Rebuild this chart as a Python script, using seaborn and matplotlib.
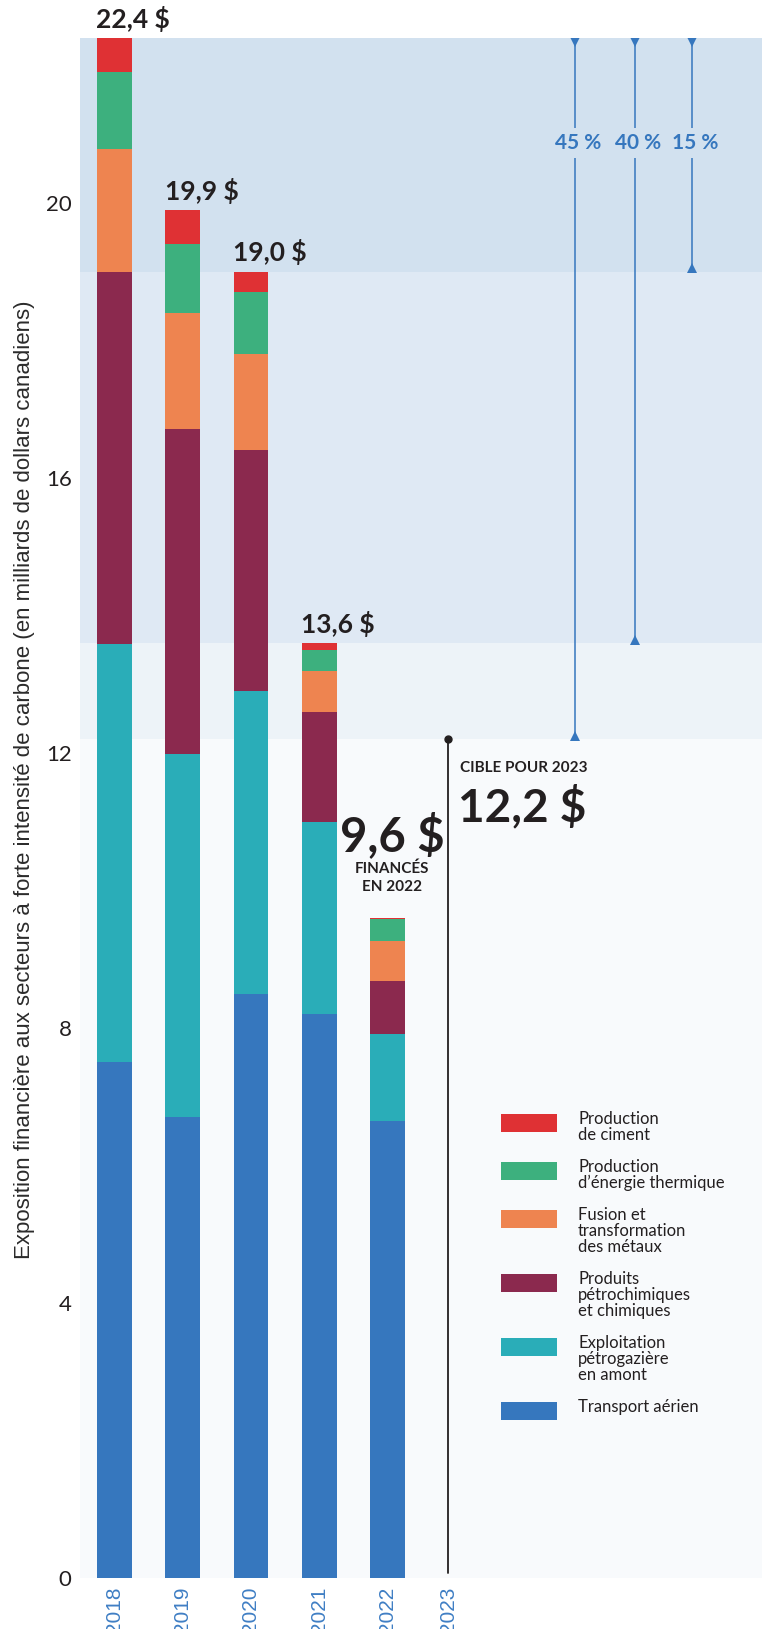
import matplotlib
matplotlib.use("Agg")
import matplotlib.pyplot as plt
from matplotlib.patches import Rectangle
import pandas as pd
import seaborn as sns

# --- data (milliards de dollars canadiens) ---
years = ["2018", "2019", "2020", "2021", "2022"]
target_year = "2023"
aerien = [7.5, 6.7, 8.5, 8.2, 6.65]
amont = [6.08, 5.29, 4.4, 2.8, 1.26]
petrochimie = [5.42, 4.72, 3.51, 1.6, 0.77]
metaux = [1.79, 1.69, 1.39, 0.6, 0.58]
thermique = [1.11, 1.0, 0.9, 0.3, 0.32]
ciment = [0.5, 0.5, 0.3, 0.1, 0.02]
total_labels = ["22,4 $", "19,9 $", "19,0 $", "13,6 $"]
total_2022 = 9.6
target_2023 = 12.2
reduction_steps = [19.0, 13.6, 12.2]          # paliers de réduction
reduction_labels = ["15 %", "40 %", "45 %"]
yticks = [0, 4, 8, 12, 16, 20]

sector_values = [aerien, amont, petrochimie, metaux, thermique, ciment]
sector_colors = ["#3677BE", "#2AADB8", "#8B294E", "#EE8450", "#3DB07E", "#DF3134"]
legend_labels = [
    "Transport aérien",
    "Exploitation\npétrogazière\nen amont",
    "Produits\npétrochimiques\net chimiques",
    "Fusion et\ntransformation\ndes métaux",
    "Production\nd’énergie thermique",
    "Production\nde ciment",
]

sns.set_theme(style="white")
plt.rcParams["font.family"] = ["Lato", "DejaVu Sans"]
DARK = "#231F20"
BLUE = "#3677BE"

W, H = 762, 1629
fig = plt.figure(figsize=(W / 100, H / 100), dpi=100, facecolor="white")
ax_l, ax_r, ax_t, ax_b = 80, 762, 38, 1578
ax = fig.add_axes([ax_l / W, 1 - ax_b / H, (ax_r - ax_l) / W, (ax_b - ax_t) / H])
ax.set_facecolor("white")

ymax = 22.4
ax.set_ylim(0, ymax)

# background bands for the successive targets
bands = [(0, target_2023, "#F8FAFC"), (target_2023, 13.6, "#EDF3F8"),
         (13.6, 19.0, "#DFE9F4"), (19.0, ymax, "#D2E1EF")]
for lo, hi, c in bands:
    ax.axhspan(lo, hi, color=c, lw=0, zorder=0)

# stacked bars: draw cumulative heights from the top layer down
cum = []
running = [0.0] * len(years)
for vals in sector_values:
    running = [r + v for r, v in zip(running, vals)]
    cum.append(list(running))
for heights, color in reversed(list(zip(cum, sector_colors))):
    df = pd.DataFrame({"annee": years, "montant": heights})
    sns.barplot(data=df, x="annee", y="montant", order=years, color=color,
                saturation=1, width=0.51, errorbar=None, linewidth=0,
                ax=ax, zorder=2)

x_target = 4.89
xmin, xmax = -0.505, 9.487
ax.set_xlim(xmin, xmax)

# totals above bars
for i, lab in enumerate(total_labels):
    ax.text(i - 0.265, cum[-1][i] + 0.15, lab, ha="left", va="baseline",
            fontsize=19, fontweight="bold", color=DARK, clip_on=False, zorder=5)

# 2022 annotation
ax.text(4.07, 10.57, "9,6 $", ha="center", va="baseline", fontsize=34,
        fontweight="bold", color=DARK, zorder=5)
ax.text(4.07, 10.25, "FINANCÉS", ha="center", va="baseline", fontsize=11,
        fontweight="bold", color=DARK, zorder=5)
ax.text(4.07, 9.99, "EN 2022", ha="center", va="baseline", fontsize=11,
        fontweight="bold", color=DARK, zorder=5)

# 2023 target marker
ax.plot([x_target, x_target], [0.08, target_2023], color=DARK, lw=1.3, zorder=4)
ax.plot([x_target], [target_2023], marker="o", ms=5, color=DARK, zorder=4)
ax.text(5.06, 11.72, "CIBLE POUR 2023", ha="left", va="baseline", fontsize=11,
        fontweight="bold", color=DARK, zorder=5)
ax.text(5.04, 11.0, "12,2 $", ha="left", va="baseline", fontsize=33,
        fontweight="bold", color=DARK, zorder=5)

# reduction arrows
px = 1540 / ymax
arrow_x = {"15 %": 8.462, "40 %": 7.626, "45 %": 6.747}
label_y = 20.87
for step, lab in zip(reduction_steps, reduction_labels):
    x = arrow_x[lab]
    ax.plot([x, x], [step, ymax], color=BLUE, lw=1.1, zorder=3, solid_capstyle="butt")
    ax.plot([x], [ymax - 3.5 / px], marker="v", ms=7, color=BLUE, mew=0, zorder=3)
    ax.plot([x], [step + 3.5 / px], marker="^", ms=7, color=BLUE, mew=0, zorder=3)
    ax.text(x + 0.05, label_y, lab, ha="center", va="center", fontsize=15,
            fontweight="bold", color=BLUE, zorder=4,
            bbox=dict(boxstyle="square,pad=0.25", fc="#D2E1EF", ec="none"))

# axes styling
for s in ax.spines.values():
    s.set_visible(False)
ax.set_yticks(yticks)
ax.set_yticklabels([str(t) for t in yticks], fontsize=16, color=DARK)
ax.set_xticks(list(range(len(years))) + [x_target])
ax.set_xticklabels(years + [target_year], rotation=90, fontsize=15, color="#3F7EC4",
                   va="top", family=["Liberation Sans", "DejaVu Sans"])
ax.tick_params(axis="both", length=0)
ax.tick_params(axis="x", pad=6)
ax.tick_params(axis="y", pad=6)
ax.set_xlabel("")
ax.set_ylabel("Exposition financière aux secteurs à forte intensité de carbone "
              "(en milliards de dollars canadiens)", fontsize=16, color="#2B2B2B",
              family=["Liberation Sans", "DejaVu Sans"])
ax.yaxis.set_label_coords(-45 / 682, (1578 - 780) / 1540)

# legend (top entry = top of the stack)
ltop = [1114, 1162, 1210, 1274, 1338, 1402]
order = list(range(len(sector_colors)))[::-1]
for top, k in zip(ltop, order):
    ax.add_patch(Rectangle(((501 - ax_l) / 682, (ax_b - top - 18) / 1540), 56 / 682, 18 / 1540,
                           transform=ax.transAxes, fc=sector_colors[k], ec="none",
                           zorder=5, clip_on=False))
    ax.text((578 - ax_l) / 682, (ax_b - top + 3) / 1540, legend_labels[k],
            transform=ax.transAxes, ha="left", va="top", fontsize=12,
            linespacing=1.0, color=DARK, zorder=5)

fig.savefig("out.png", dpi=100, facecolor="white")
